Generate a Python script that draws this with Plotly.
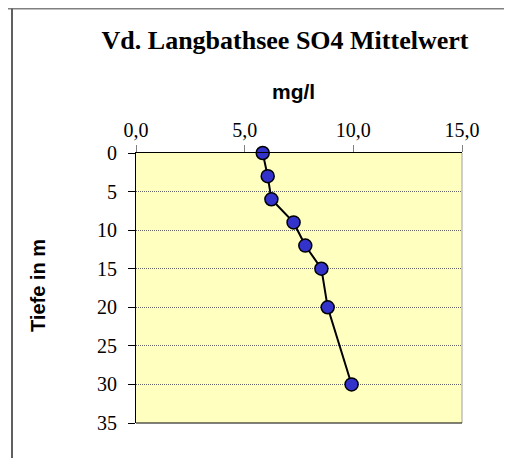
import plotly.graph_objects as go

depth = [0, 3, 6, 9, 12, 15, 20, 30]
so4 = [5.83, 6.06, 6.23, 7.25, 7.79, 8.53, 8.82, 9.92]
x_ticks = [0, 5, 10, 15]
x_tick_labels = ["0,0", "5,0", "10,0", "15,0"]
y_ticks = [0, 5, 10, 15, 20, 25, 30, 35]

fig = go.Figure()
fig.add_trace(go.Scatter(
    x=so4, y=depth, mode="lines+markers",
    line=dict(color="black", width=2),
    marker=dict(size=13, color="#3333CC", line=dict(color="black", width=1.5)),
    showlegend=False, cliponaxis=False,
))

# page body has an 8px margin; the figure is sized/placed to compensate
OFF = 8
W, H = 512 - OFF, 458 - OFF
L, T = 136 - OFF, 153 - OFF
R = W - (462 - OFF)
B = H - (423 - OFF)
pw = W - L - R
ph = H - T - B


def px(x):
    return (x - OFF - L) / pw


def py(y):
    return (H - (y - OFF) - B) / ph


fig.update_layout(
    width=W, height=H,
    margin=dict(l=L, r=R, t=T, b=B),
    paper_bgcolor="white",
    plot_bgcolor="#FFFFC0",
    title=dict(text="<b>Vd. Langbathsee SO4 Mittelwert</b>", x=(285 - OFF) / W, xanchor="center",
               y=1 - (40 - OFF) / H, yanchor="middle",
               font=dict(family="Liberation Serif", size=26, color="black")),
    xaxis=dict(side="top", range=[0, 15], tickvals=x_ticks, ticktext=x_tick_labels,
               showgrid=False, zeroline=False, showline=True, linecolor="black", linewidth=1,
               ticks="outside", ticklen=7, tickcolor="#808080", automargin=False,
               tickfont=dict(family="Liberation Serif", size=20, color="black")),
    yaxis=dict(range=[35, 0], tickvals=y_ticks, showgrid=True, gridcolor="#666666",
               griddash="1px,1px", gridwidth=1, zeroline=False, showline=True, linecolor="black",
               linewidth=1, ticks="outside", ticklen=7, tickcolor="black", automargin=False,
               ticklabelstandoff=7,
               tickfont=dict(family="Liberation Serif", size=20, color="black")),
)
fig.add_annotation(text="<b>mg/l</b>", xref="paper", yref="paper",
                   x=px(293), y=py(91), xanchor="center", yanchor="middle",
                   showarrow=False, font=dict(family="Liberation Sans", size=21, color="black"))
fig.add_annotation(text="<b>Tiefe in m</b>", xref="paper", yref="paper", textangle=-90,
                   x=px(38), y=py(286), xanchor="center", yanchor="middle",
                   showarrow=False, font=dict(family="Liberation Sans", size=20, color="black"))
# plot area right and bottom edges
fig.add_shape(type="line", xref="paper", yref="paper", x0=1, x1=1, y0=0, y1=1,
              line=dict(color="#A0A0A0", width=1))
fig.add_shape(type="line", xref="paper", yref="paper", x0=0, x1=1, y0=0, y1=0,
              line=dict(color="black", width=1))
# outer chart frame: top line and left line
fig.add_shape(type="line", xref="paper", yref="paper", x0=px(0), x1=px(520), y0=py(8.5), y1=py(8.5),
              line=dict(color="#808080", width=2))
fig.add_shape(type="line", xref="paper", yref="paper", x0=px(12), x1=px(12), y0=py(8.5), y1=py(470),
              line=dict(color="#606060", width=2))
fig.write_html("out.html")
